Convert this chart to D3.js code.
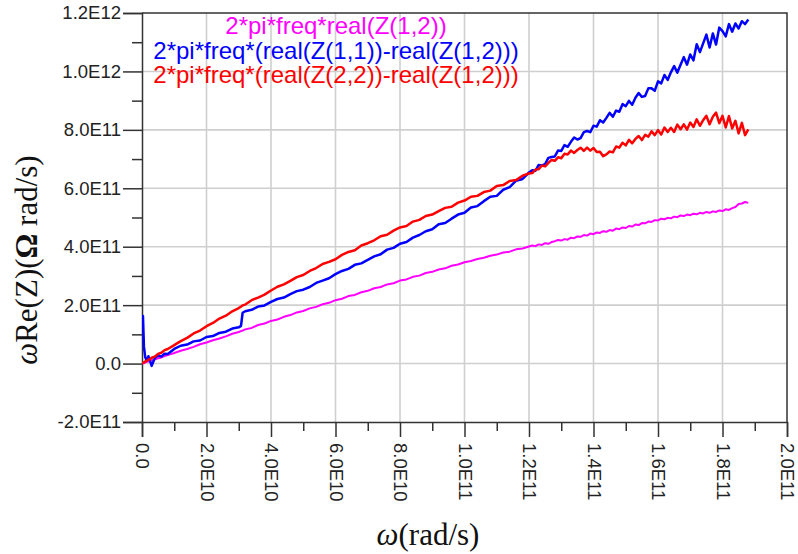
<!DOCTYPE html>
<html>
<head>
<meta charset="utf-8">
<script src="https://cdn.jsdelivr.net/npm/d3@7"></script>
<style>
  html, body { margin: 0; padding: 0; background: #fff; }
  svg { display: block; }
</style>
</head>
<body>
<svg id="chart" width="798" height="554"></svg>
<script>
// Angular frequency grid, in units of 1e9 rad/s
const omegaG = [
  0, 0.3, 0.6, 1, 1.5, 2, 2.5, 3, 4, 5, 6, 7, 8,
  10, 12, 14, 16, 18, 20, 22, 24, 26, 28, 30, 30.7, 31.2,
  32, 34, 36, 38, 40, 42, 44, 46, 48, 50, 52, 54, 56, 58, 60, 62, 64, 66, 68, 70,
  72, 74, 76, 78, 80, 82, 84, 86, 88, 90, 92, 94, 96, 98, 100, 102, 104, 106, 108, 110,
  112, 114, 116, 118, 120,
  121, 122, 123, 124, 125, 126, 127, 128, 129, 130, 131, 132, 133, 134, 135, 136, 137, 138, 139, 140,
  141, 142, 143, 144, 145, 146, 147, 148, 149, 150, 151, 152, 153, 154, 155, 156, 157, 158, 159, 160,
  161, 162, 163, 164, 165, 166, 167, 168, 169, 170, 171, 172, 173, 174, 175, 176, 177, 178, 179, 180,
  181, 182, 183, 184, 185, 186, 187, 188
];

// 2*pi*freq*real(Z(1,2)), in units of 1e9
const wReZ12 = [
  0, 2, 1, 4, 6, 7, 10, 11, 15, 18, 21, 26, 29,
  36, 44, 50, 57, 66, 72, 80, 86, 93, 102, 108, 111, 113,
  117, 122, 132, 137, 146, 151, 160, 166, 175, 180, 189, 194, 203, 208, 217, 222, 231, 235, 244, 249,
  258, 262, 271, 275, 284, 288, 297, 301, 310, 314, 322, 326, 335, 339, 347, 351, 358, 362, 369, 373,
  380, 383, 391, 394, 401,
  404, 402, 408, 406, 412, 410, 416, 419, 423, 421, 426, 424, 431, 429, 435, 434, 440, 438, 445, 443,
  449, 447, 453, 451, 457, 455, 462, 460, 466, 464, 471, 469, 476, 474, 481, 480, 486, 485, 491, 490,
  496, 494, 499, 497, 503, 501, 507, 505, 510, 508, 513, 511, 516, 514, 519, 516, 521, 519, 524, 522,
  528, 526, 532, 536, 546, 548, 553, 550
];

// 2*pi*freq*(real(Z(1,1))-real(Z(1,2))), in units of 1e9
const wReZ11m12 = [
  150, 163, 58, 22, 10, 25, 8, -8, 20, 28, 24, 34, 33,
  50, 61, 65, 76, 79, 91, 94, 105, 109, 120, 124, 129, 174,
  179, 184, 195, 199, 211, 221, 226, 238, 248, 253, 262, 276, 284, 292, 306, 317, 324, 338, 343, 355,
  367, 374, 390, 396, 410, 416, 431, 440, 453, 460, 477, 481, 496, 510, 516, 534, 539, 556, 571, 574,
  595, 604, 626, 632, 654,
  662, 660, 680, 678, 683, 704, 707, 709, 729, 728, 748, 742, 759, 774, 767, 772, 792, 796, 792, 814,
  811, 833, 825, 841, 858, 845, 866, 862, 888, 881, 899, 886, 910, 926, 913, 916, 942, 942, 934, 966,
  959, 988, 971, 997, 1018, 996, 1023, 1049, 1023, 1058, 1038, 1093, 1066, 1096, 1126, 1082, 1130, 1092, 1150, 1138,
  1120, 1162, 1136, 1164, 1147, 1172, 1162, 1178
];

// 2*pi*freq*(real(Z(2,2))-real(Z(1,2))), in units of 1e9
const wReZ22m12 = [
  2, 3, 4, 7, 9, 14, 15, 20, 24, 33, 37, 46, 50,
  63, 77, 88, 103, 113, 128, 139, 154, 164, 179, 190, 195, 199,
  202, 217, 226, 236, 250, 263, 271, 283, 296, 303, 317, 327, 341, 348, 357, 372, 382, 388, 404, 412,
  422, 436, 441, 455, 466, 471, 486, 492, 505, 510, 522, 533, 537, 551, 558, 571, 574, 587, 592, 608,
  611, 625, 628, 643, 651,
  652, 664, 665, 678, 675, 687, 697, 694, 706, 703, 718, 716, 729, 721, 731, 739, 728, 739, 729, 738,
  724, 725, 710, 716, 726, 723, 743, 739, 756, 747, 766, 754, 769, 779, 765, 783, 777, 795, 782, 799,
  784, 808, 793, 807, 793, 818, 802, 819, 801, 825, 810, 836, 814, 833, 848, 819, 845, 859, 823, 848,
  808, 847, 805, 831, 788, 824, 782, 802
];

// Axis tick values and labels
const xTicks = [0, 2e10, 4e10, 6e10, 8e10, 1e11, 1.2e11, 1.4e11, 1.6e11, 1.8e11, 2e11];
const xTickLabels = ["0.0", "2.0E10", "4.0E10", "6.0E10", "8.0E10", "1.0E11", "1.2E11", "1.4E11", "1.6E11", "1.8E11", "2.0E11"];
const yTicks = [-2e11, 0, 2e11, 4e11, 6e11, 8e11, 1e12, 1.2e12];
const yTickLabels = ["-2.0E11", "0.0", "2.0E11", "4.0E11", "6.0E11", "8.0E11", "1.0E12", "1.2E12"];

const UNIT = 1e9;

const series = [
  { name: "2*pi*freq*real(Z(1,2))", color: "#ff00ff", values: wReZ12, width: 2 },
  { name: "2*pi*freq*(real(Z(1,1))-real(Z(1,2)))", color: "#0000ff", values: wReZ11m12, width: 2.5 },
  { name: "2*pi*freq*(real(Z(2,2))-real(Z(1,2)))", color: "#ff0000", values: wReZ22m12, width: 2.5 }
];

const svg = d3.select("#chart");
const plotL = 142, plotR = 787, plotT = 13, plotB = 422;

const x = d3.scaleLinear().domain([0, 2e11]).range([plotL, plotR]);
const y = d3.scaleLinear().domain([-2e11, 1.2e12]).range([plotB, plotT]);

const mids = arr => d3.pairs(arr).map(([a, b]) => (a + b) / 2);

// Grid lines
const grid = svg.append("g").attr("stroke", "#cfcfcf").attr("stroke-width", 1.6);
xTicks.slice(1, -1).forEach(t => {
  grid.append("line").attr("x1", x(t)).attr("x2", x(t)).attr("y1", plotT).attr("y2", plotB);
});
yTicks.slice(1, -1).forEach(t => {
  grid.append("line").attr("x1", plotL).attr("x2", plotR).attr("y1", y(t)).attr("y2", y(t));
});

// Frame (top and right edges)
svg.append("path")
  .attr("d", `M${plotL},${plotT}H${plotR}V${plotB}`)
  .attr("fill", "none").attr("stroke", "#333").attr("stroke-width", 1.5);

const labelFont = "'Liberation Sans', Arial, sans-serif";

// Y axis: major and minor ticks
const yAxis = d3.axisLeft(y).tickValues(yTicks).tickSize(19).tickPadding(2)
  .tickFormat((d, i) => yTickLabels[i]);
const gy = svg.append("g").attr("transform", `translate(${plotL},0)`).call(yAxis);
gy.select(".domain").attr("stroke", "#333").attr("stroke-width", 1.5);
gy.selectAll(".tick line").attr("stroke", "#333").attr("stroke-width", 1.5);
gy.selectAll(".tick text").attr("font-family", labelFont).attr("font-size", 18.5).attr("fill", "#222");
const yMinor = d3.axisLeft(y).tickValues(mids(yTicks)).tickSize(10).tickFormat("");
const gym = svg.append("g").attr("transform", `translate(${plotL},0)`).call(yMinor);
gym.select(".domain").remove();
gym.selectAll(".tick line").attr("stroke", "#333").attr("stroke-width", 1.5);

// X axis: major and minor ticks, labels rotated
const xAxis = d3.axisBottom(x).tickValues(xTicks).tickSize(15)
  .tickFormat((d, i) => xTickLabels[i]);
const gx = svg.append("g").attr("transform", `translate(0,${plotB})`).call(xAxis);
gx.select(".domain").attr("stroke", "#333").attr("stroke-width", 1.5);
gx.selectAll(".tick line").attr("stroke", "#333").attr("stroke-width", 1.5);
gx.selectAll(".tick text")
  .attr("font-family", labelFont).attr("font-size", 18.5).attr("fill", "#222")
  .attr("text-anchor", "start").attr("dominant-baseline", "central")
  .attr("x", 0).attr("y", 0).attr("dy", null)
  .attr("transform", "translate(0,21) rotate(90)");
const xMinor = d3.axisBottom(x).tickValues(mids(xTicks)).tickSize(9).tickFormat("");
const gxm = svg.append("g").attr("transform", `translate(0,${plotB})`).call(xMinor);
gxm.select(".domain").remove();
gxm.selectAll(".tick line").attr("stroke", "#333").attr("stroke-width", 1.5);

// Data lines
svg.append("clipPath").attr("id", "plotclip")
  .append("rect").attr("x", plotL).attr("y", plotT).attr("width", plotR - plotL).attr("height", plotB - plotT);
const line = d3.line().x(d => x(d[0])).y(d => y(d[1]));
const plot = svg.append("g").attr("clip-path", "url(#plotclip)");
series.forEach(s => {
  const pts = omegaG.map((w, i) => [w * UNIT, s.values[i] * UNIT]);
  plot.append("path").datum(pts)
    .attr("d", line)
    .attr("fill", "none")
    .attr("stroke", s.color)
    .attr("stroke-width", s.width)
    .attr("stroke-linejoin", "round");
});

// Legend
const legendY = [34, 58.5, 83];
series.forEach((s, i) => {
  svg.append("text")
    .attr("x", 336).attr("y", legendY[i])
    .attr("text-anchor", "middle")
    .attr("font-family", labelFont).attr("font-size", 24)
    .attr("fill", s.color)
    .text(s.name);
});

// Axis titles
const serif = "'Liberation Serif', 'Times New Roman', serif";
const xt = svg.append("text")
  .attr("x", 428).attr("y", 545)
  .attr("text-anchor", "middle")
  .attr("font-family", serif).attr("font-size", 31).attr("fill", "#111");
xt.append("tspan").attr("font-style", "italic").text("ω");
xt.append("tspan").text("(rad/s)");

const yt = svg.append("text")
  .attr("transform", "translate(37,260) rotate(-90)")
  .attr("text-anchor", "middle")
  .attr("font-family", serif).attr("font-size", 31).attr("fill", "#111");
yt.append("tspan").attr("font-style", "italic").text("ω");
yt.append("tspan").text("Re(Z)(");
yt.append("tspan").attr("font-weight", "bold").text("Ω");
yt.append("tspan").text(" rad/s)");
</script>
</body>
</html>
